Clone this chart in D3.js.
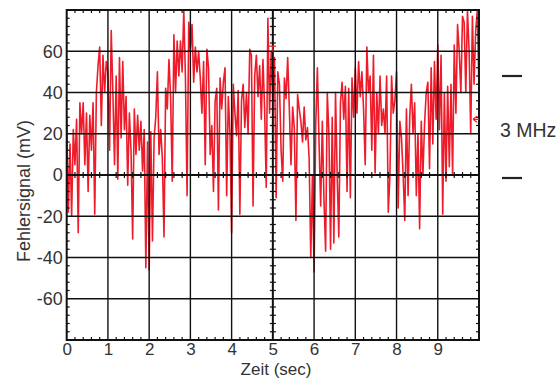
<!DOCTYPE html>
<html><head><meta charset="utf-8">
<script src="https://cdn.jsdelivr.net/npm/d3@7"></script>
<style>
html,body{margin:0;padding:0;background:#fff;}
svg{display:block;}
text{font-family:"Liberation Sans",Arial,sans-serif;fill:#333;}
</style></head>
<body><div id="chart"></div>
<script>
// time step in seconds between samples
const timeStep = 0.04;
// error signal in mV, sampled every 0.04 s from 0 to 10 s
const signal = [
 28,-18,15,-20,22,5,27,-28,35,20,35,5,30,-8,29,12,35,-19,40,53,62,24,58,40,55,
 50,12,70,40,5,48,-2,57,18,55,22,38,-5,30,12,-31,32,10,29,12,26,2,22,-45,16,
 -46,21,-32,18,28,50,10,22,8,-30,42,32,56,38,-3,68,40,65,48,65,50,80,47,-10,74,
 60,73,45,62,50,60,47,30,55,5,61,52,10,24,-8,36,42,-17,47,32,45,52,-10,38,20,
 -28,44,30,19,41,-19,36,44,23,40,20,61,58,-15,48,58,38,53,27,56,32,-6,76,30,60,
 36,57,-11,50,44,12,-3,47,37,57,32,5,33,23,-22,39,32,26,16,33,17,23,8,-40,0,
 -47,24,52,16,-15,26,-12,-37,40,20,-36,28,-33,40,0,-30,35,45,27,43,-8,42,-11,47,28,
 52,30,55,38,50,32,5,62,40,48,12,58,1,40,20,48,24,32,20,48,-18,0,48,30,36,
 50,-16,26,18,0,-22,32,-10,28,44,20,35,-10,20,-26,26,0,25,40,45,3,52,15,55,27,
 63,22,58,-19,40,-3,43,4,44,0,63,30,73,60,40,77,74,40,80,60,20,77,44,70,80,40
];
const xTickValues = [0,1,2,3,4,5,6,7,8,9];
const yTickValues = [-60,-40,-20,0,20,40,60];
const xLabel = "Zeit (sec)";
const yLabel = "Fehlersignal (mV)";
const sideLabel = "3 MHz";

const W = 560, H = 379;
const svg = d3.select("#chart").append("svg").attr("width", W).attr("height", H);

const x = d3.scaleLinear().domain([0, 10]).range([66.7, 479]);
const y = d3.scaleLinear().domain([-80, 80]).range([340, 10]);

svg.append("clipPath").attr("id","clip").append("rect")
  .attr("x", x(0)).attr("y", y(80)).attr("width", x(10)-x(0)).attr("height", y(-80)-y(80));

// data line
const pts = signal.map((v,i)=>[i*timeStep, v]);
svg.append("path").datum(pts)
  .attr("clip-path","url(#clip)")
  .attr("fill","none").attr("stroke","#ee1c2a").attr("stroke-width",1.6)
  .attr("stroke-linejoin","round")
  .attr("d", d3.line().x(d=>x(d[0])).y(d=>y(d[1])));

const grid = svg.append("g").attr("stroke","#111");
grid.selectAll("line.vx").data(d3.range(1,10)).join("line")
  .attr("x1",d=>x(d)).attr("x2",d=>x(d)).attr("y1",y(80)).attr("y2",y(-80))
  .attr("stroke-width", d=>d===5?2:1.4);
grid.selectAll("line.hy").data([-60,-40,-20,0,20,40,60]).join("line")
  .attr("y1",d=>y(d)).attr("y2",d=>y(d)).attr("x1",x(0)).attr("x2",x(10))
  .attr("stroke-width", d=>d===0?2:1.4);

// minor ticks
const minorX = d3.range(1,50).map(i=>i*0.2).filter(v=>Math.abs(v-Math.round(v))>1e-6);
const minorY = d3.range(-19,20).map(i=>i*4).filter(v=>v%20!==0);
const tl = 3;
const tk = svg.append("g").attr("stroke","#111").attr("stroke-width",1.2);
tk.selectAll("line.t").data(minorX).join("line").attr("class","t")
  .attr("x1",d=>x(d)).attr("x2",d=>x(d)).attr("y1",y(80)).attr("y2",y(80)+tl);
tk.selectAll("line.b").data(minorX).join("line").attr("class","b")
  .attr("x1",d=>x(d)).attr("x2",d=>x(d)).attr("y1",y(-80)).attr("y2",y(-80)-tl);
tk.selectAll("line.z").data(minorX).join("line").attr("class","z")
  .attr("x1",d=>x(d)).attr("x2",d=>x(d)).attr("y1",y(0)-tl).attr("y2",y(0)+tl);
tk.selectAll("line.l").data(minorY).join("line").attr("class","l")
  .attr("y1",d=>y(d)).attr("y2",d=>y(d)).attr("x1",x(0)).attr("x2",x(0)+tl);
tk.selectAll("line.r").data(minorY).join("line").attr("class","r")
  .attr("y1",d=>y(d)).attr("y2",d=>y(d)).attr("x1",x(10)).attr("x2",x(10)-tl);
tk.selectAll("line.c").data(minorY).join("line").attr("class","c")
  .attr("y1",d=>y(d)).attr("y2",d=>y(d)).attr("x1",x(5)-tl).attr("x2",x(5)+tl);

// frame
svg.append("rect").attr("x",x(0)).attr("y",y(80)).attr("width",x(10)-x(0)).attr("height",y(-80)-y(80))
  .attr("fill","none").attr("stroke","#111").attr("stroke-width",2);

const fmt = d => String(d);
const xAxis = svg.append("g").attr("transform",`translate(0,${y(-80)})`)
  .call(d3.axisBottom(x).tickValues(xTickValues).tickFormat(fmt).tickSize(0).tickPadding(3));
xAxis.select(".domain").remove();
xAxis.selectAll("text").attr("font-size",17).attr("fill","#333").attr("font-family","Liberation Sans, Arial, sans-serif");

const yAxis = svg.append("g").attr("transform",`translate(${x(0)},0)`)
  .call(d3.axisLeft(y).tickValues(yTickValues).tickFormat(fmt).tickSize(0).tickPadding(4));
yAxis.select(".domain").remove();
yAxis.selectAll("text").attr("font-size",18).attr("fill","#333").attr("font-family","Liberation Sans, Arial, sans-serif");

svg.append("text").attr("x",276).attr("y",374.5).attr("text-anchor","middle")
  .attr("font-size",17).text(xLabel);
svg.append("text").attr("transform","translate(30,191) rotate(-90)").attr("text-anchor","middle")
  .attr("font-size",18).text(yLabel);

// side annotation
svg.append("text").attr("x",500).attr("y",137).attr("font-size",19.5).text(sideLabel);
svg.append("line").attr("x1",502).attr("x2",522).attr("y1",76).attr("y2",76).attr("stroke","#222").attr("stroke-width",2.2);
svg.append("line").attr("x1",502).attr("x2",522).attr("y1",178).attr("y2",178).attr("stroke","#222").attr("stroke-width",2.2);

// red markers (trigger level / position)
svg.append("path").attr("d",`M${x(10)-6},${y(27)} l4,-3 M${x(10)-6},${y(27)} l4,3 M${x(10)-6},${y(27)} h6`)
  .attr("fill","none").attr("stroke","#ee1c2a").attr("stroke-width",1.2);
svg.append("path").attr("d",`M${x(5)-4},${y(62.5)} h7 M${x(5)},${y(62.5)} v6`)
  .attr("fill","none").attr("stroke","#ee1c2a").attr("stroke-width",1.2);
</script></body></html>
